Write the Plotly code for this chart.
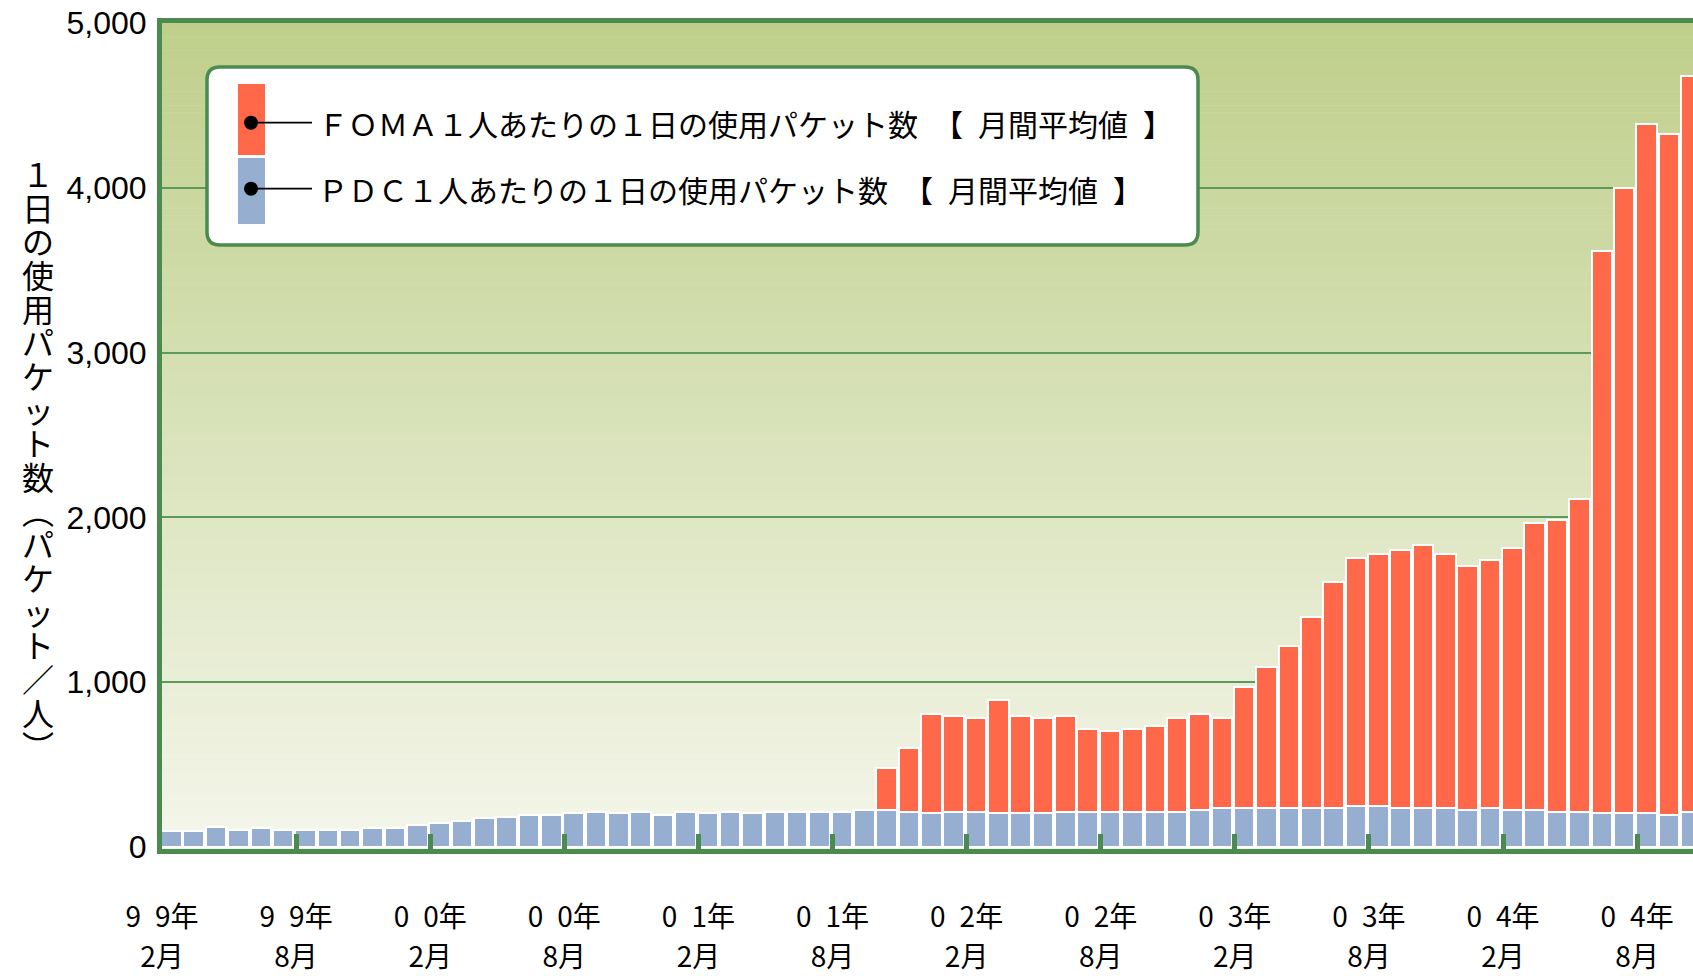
import plotly.graph_objects as go
import pandas as pd

# ---------------- data ----------------
months = [p.strftime("%Y年%m月") for p in pd.period_range("1999-02", "2004-10", freq="M")]

pdc_values = [95, 95, 120, 103, 113, 103, 103, 103, 103, 113, 113, 133, 143, 155, 175, 183,
              193, 193, 205, 213, 205, 213, 193, 213, 205, 213, 205, 213, 213, 213, 213, 226,
              226, 213, 205, 213, 213, 205, 205, 205, 213, 213, 213, 213, 213, 213, 226, 237,
              237, 237, 237, 237, 237, 246, 246, 237, 237, 237, 226, 237, 226, 226, 213, 213,
              205, 205, 205, 196, 213]

foma_values = [None] * 32 + [480, 600, 805, 795, 785, 890, 795, 785, 795, 715, 705, 715, 735,
                             785, 805, 785, 970, 1090, 1220, 1395, 1610, 1755, 1780, 1805,
                             1830, 1780, 1705, 1740, 1815, 1965, 1985, 2110, 3615, 4000,
                             4385, 4325, 4680]

tick_positions = [0, 6, 12, 18, 24, 30, 36, 42, 48, 54, 60, 66]
tick_years = ["9\u20029年", "9\u20029年", "0\u20020年", "0\u20020年", "0\u20021年", "0\u20021年",
              "0\u20022年", "0\u20022年", "0\u20023年", "0\u20023年", "0\u20024年", "0\u20024年"]
tick_months = ["2月", "8月"] * 6
y_ticks = [0, 1000, 2000, 3000, 4000, 5000]

foma_name = "ＦＯＭＡ１人あたりの１日の使用パケット数\u2002【\u2002月間平均値\u2002】"
pdc_name = "ＰＤＣ１人あたりの１日の使用パケット数\u2002【\u2002月間平均値\u2002】"
y_title = "１日の使用パケット数︵パケット／人︶"

# ---------------- geometry (page pixels; body margin removed) ----------------
W, H = 1693, 976
PL, PR, PT, PB = 162, 1693, 23, 849          # plot area in page pixels
L, T, R, B = PL, PT, W - PR, H - PB
PW, PH = PR - PL, PB - PT
GREEN = "#4b8b50"
FOMA_C = "#ff6848"
PDC_C = "#96afd0"
CJK = "Noto Sans CJK JP"


def fx(X):
    return (X - PL) / PW


def fy(Y):
    return (PB - Y) / PH


x_pos = list(range(len(months)))

fig = go.Figure()
fig.add_trace(go.Bar(
    x=x_pos, y=foma_values, name=foma_name, customdata=months,
    marker=dict(color=FOMA_C, line=dict(color="white", width=2)),
    width=0.92, offset=-0.04, showlegend=False,
    hovertemplate="%{customdata}<br>FOMA: %{y}<extra></extra>"))
fig.add_trace(go.Bar(
    x=x_pos, y=pdc_values, name=pdc_name, customdata=months,
    marker=dict(color=PDC_C, line=dict(color="white", width=2)),
    width=0.92, offset=-0.04, showlegend=False,
    hovertemplate="%{customdata}<br>PDC: %{y}<extra></extra>"))
# empty helper trace so that the second (month-row) label axis exists
fig.add_trace(go.Scatter(x=[], y=[], xaxis="x2", showlegend=False, hoverinfo="skip"))

shapes = []
# background gradient (plot area)
top_c = (191, 207, 139)
bot_c = (244, 246, 234)
N = 120
for i in range(N):
    t = i / (N - 1)
    c = tuple(round(bot_c[j] + (top_c[j] - bot_c[j]) * t) for j in range(3))
    shapes.append(dict(type="rect", xref="paper", yref="paper", layer="below",
                       x0=0, x1=1, y0=i / N, y1=(i + 1.05) / N,
                       fillcolor="rgb(%d,%d,%d)" % c, line=dict(width=0)))

# legend box (rounded)
bx0, bx1, by0, by1, rad = 207, 1198, 67, 245, 13
rx, ry = rad / PW, rad / PH
X0, X1, Y0, Y1 = fx(bx0), fx(bx1), fy(by1), fy(by0)
path = (f"M{X0+rx},{Y0} L{X1-rx},{Y0} Q{X1},{Y0} {X1},{Y0+ry} L{X1},{Y1-ry} "
        f"Q{X1},{Y1} {X1-rx},{Y1} L{X0+rx},{Y1} Q{X0},{Y1} {X0},{Y1-ry} "
        f"L{X0},{Y0+ry} Q{X0},{Y0} {X0+rx},{Y0} Z")
shapes.append(dict(type="path", path=path, xref="paper", yref="paper", layer="above",
                   fillcolor="white", line=dict(color=GREEN, width=3.5)))
shapes.append(dict(type="rect", xref="paper", yref="paper", layer="above",
                   x0=fx(238), x1=fx(265), y0=fy(155), y1=fy(84),
                   fillcolor=FOMA_C, line=dict(width=0)))
shapes.append(dict(type="rect", xref="paper", yref="paper", layer="above",
                   x0=fx(238), x1=fx(265), y0=fy(224), y1=fy(158),
                   fillcolor=PDC_C, line=dict(width=0)))
for yc in (122.7, 188.7):
    shapes.append(dict(type="line", xref="paper", yref="paper", layer="above",
                       x0=fx(251), x1=fx(312), y0=fy(yc), y1=fy(yc),
                       line=dict(color="black", width=1.8)))
    shapes.append(dict(type="circle", xref="paper", yref="paper", layer="above",
                       x0=fx(251 - 7), x1=fx(251 + 7), y0=fy(yc + 7), y1=fy(yc - 7),
                       fillcolor="black", line=dict(width=0)))

annotations = []
for txt, yc in ((foma_name, 122.7), (pdc_name, 188.7)):
    annotations.append(dict(text=txt, xref="paper", yref="paper", x=fx(316), y=fy(yc),
                            xanchor="left", yanchor="middle", showarrow=False,
                            font=dict(family=CJK, size=30, color="black")))

# vertical y-axis title: one upright character per line
title_html = "<br>".join("<span style='font-size:32px'>%s</span>" % ch for ch in y_title)
annotations.append(dict(text=title_html, xref="paper", yref="paper", x=fx(38),
                        y=fy(148), xanchor="center", yanchor="top", showarrow=False,
                        align="center", font=dict(family=CJK, size=25.9, color="black")))

fig.update_layout(
    width=W, height=H, margin=dict(l=L, r=R, t=T, b=B, autoexpand=False),
    paper_bgcolor="white", plot_bgcolor="#e6ebd0",
    barmode="overlay", bargap=0, hovermode="closest",
    shapes=shapes, annotations=annotations, showlegend=False,
    xaxis=dict(range=[0, 68.5], showgrid=False, zeroline=False,
               showline=True, linecolor=GREEN, linewidth=5, mirror=True,
               tickmode="array", tickvals=tick_positions, ticktext=tick_years,
               ticks="inside", ticklen=15, tickwidth=5, tickcolor=GREEN,
               ticklabelstandoff=39, ticklabeloverflow="allow",
               tickfont=dict(family=CJK, size=28, color="black")),
    xaxis2=dict(range=[0, 68.5], overlaying="x", anchor="y", side="bottom",
                showgrid=False, zeroline=False, showline=False, ticks="",
                tickmode="array", tickvals=tick_positions, ticktext=tick_months,
                ticklabelstandoff=89, ticklabeloverflow="allow",
                tickfont=dict(family=CJK, size=28, color="black")),
    yaxis=dict(range=[-12, 5000], showgrid=True, gridcolor="#5b9a5b", gridwidth=1.5,
               zeroline=False, showline=True, linecolor=GREEN, linewidth=5,
               tickmode="array", tickvals=y_ticks, tickformat=",d", ticks="",
               ticklabelstandoff=4, ticklabeloverflow="allow",
               tickfont=dict(family="Liberation Sans", size=32, color="black")),
)

fig.write_html("out.html", config={"displayModeBar": False},
               post_script="document.body.style.margin='0';document.body.style.overflow='hidden';")
